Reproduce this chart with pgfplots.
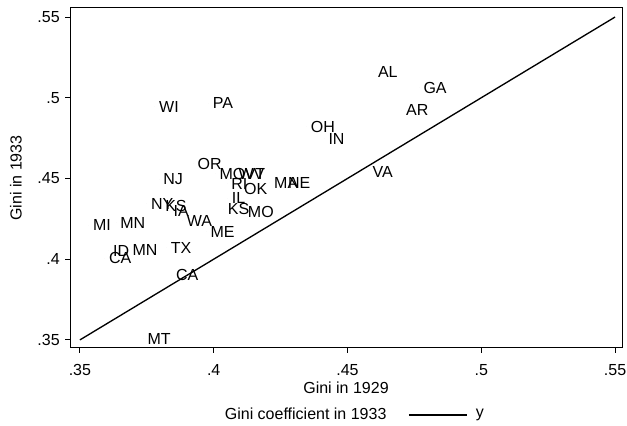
\documentclass[border=0pt]{standalone}
\usepackage{fontspec}
\setmainfont{Liberation Sans}
\usepackage{pgfplots}
\pgfplotsset{compat=1.18}
\usepackage{pgfplotstable}

% state, Gini 1929, Gini 1933
\pgfplotstableread{
st  g29     g33
OR  0.3924  0.4590
MO  0.4006  0.4528
WV  0.4077  0.4528
VT  0.4100  0.4528
RI  0.4050  0.4466
OK  0.4098  0.4435
MA  0.4210  0.4474
NE  0.4262  0.4474
NJ  0.3796  0.4495
NY  0.3750  0.4342
KS  0.3803  0.4330
IA  0.3834  0.4299
WA  0.3884  0.4237
ME  0.3972  0.4171
IL  0.4052  0.4377
KS  0.4037  0.4309
MO  0.4112  0.4294
MI  0.3533  0.4209
MN  0.3635  0.4226
ID  0.3608  0.4051
CA  0.3593  0.4006
MN  0.3681  0.4060
TX  0.3824  0.4070
CA  0.3843  0.3902
AL  0.4598  0.5161
GA  0.4768  0.5062
AR  0.4703  0.4924
OH  0.4347  0.4821
IN  0.4413  0.4745
VA  0.4578  0.4542
WI  0.3780  0.4945
PA  0.3981  0.4966
MT  0.3737  0.3506
}\ginidata

\pgfplotsset{
    emptykey/.style={legend image code/.code={\path[draw=none, fill=none] (0pt,-1pt) rectangle (34.8pt,1pt);}},
    linekey/.style={legend image code/.code={\draw[black, line width=0.8pt] (0pt,0pt) -- (34.8pt,0pt);}},
}

\begin{document}
\begin{tikzpicture}[font=\fontsize{9.6pt}{11pt}\selectfont]
\begin{axis}[
    name=ax,
    scale only axis,
    width=331.2pt, height=204pt,
    xmin=0.3463, xmax=0.5526,
    ymin=0.3450, ymax=0.5556,
    xtick={0.35,0.4,0.45,0.5,0.55},
    xticklabels={.35,.4,.45,.5,.55},
    ytick={0.35,0.4,0.45,0.5,0.55},
    yticklabels={.35,.4,.45,.5,.55},
    tick align=outside,
    xtick pos=bottom, ytick pos=left,
    major tick length=3pt,
    every tick/.style={black, line width=0.6pt},
    axis line style={line width=0.6pt},
    xticklabel style={inner sep=0pt, yshift=-6.6pt},
    yticklabel style={inner sep=0pt, xshift=-3pt},
    xlabel={Gini in 1929},
    ylabel={Gini in 1933},
    xlabel style={at={(axis description cs:0.5,-0.1176)}, anchor=center},
    ylabel style={at={(axis description cs:-0.0978,0.5)}, anchor=center},
    legend columns=2,
    legend style={draw=none, fill=none, at={(0.455,-0.197)}, anchor=center,
        inner sep=0pt, nodes={inner sep=0pt},
        /tikz/every odd column/.append style={column sep=5pt},
        /tikz/every even column/.append style={column sep=13pt}},
]
\addplot[only marks, mark=*, mark size=0pt, mark options={draw=none, fill=none},
    nodes near coords, point meta=explicit symbolic,
    nodes near coords style={anchor=west, inner sep=0pt, xshift=2.4pt, text=black},
    emptykey]
    table[x=g29, y=g33, meta=st] {\ginidata};
\addlegendentry{Gini coefficient in 1933}
\addplot[black, line width=0.8pt, linekey]
    coordinates {(0.35,0.35) (0.55,0.55)};
\addlegendentry{y}
\end{axis}
\pgfresetboundingbox
\path ([shift={(-42pt,-46.8pt)}]ax.south west) rectangle ([shift={(3pt,4.8pt)}]ax.north east);
\end{tikzpicture}
\end{document}
